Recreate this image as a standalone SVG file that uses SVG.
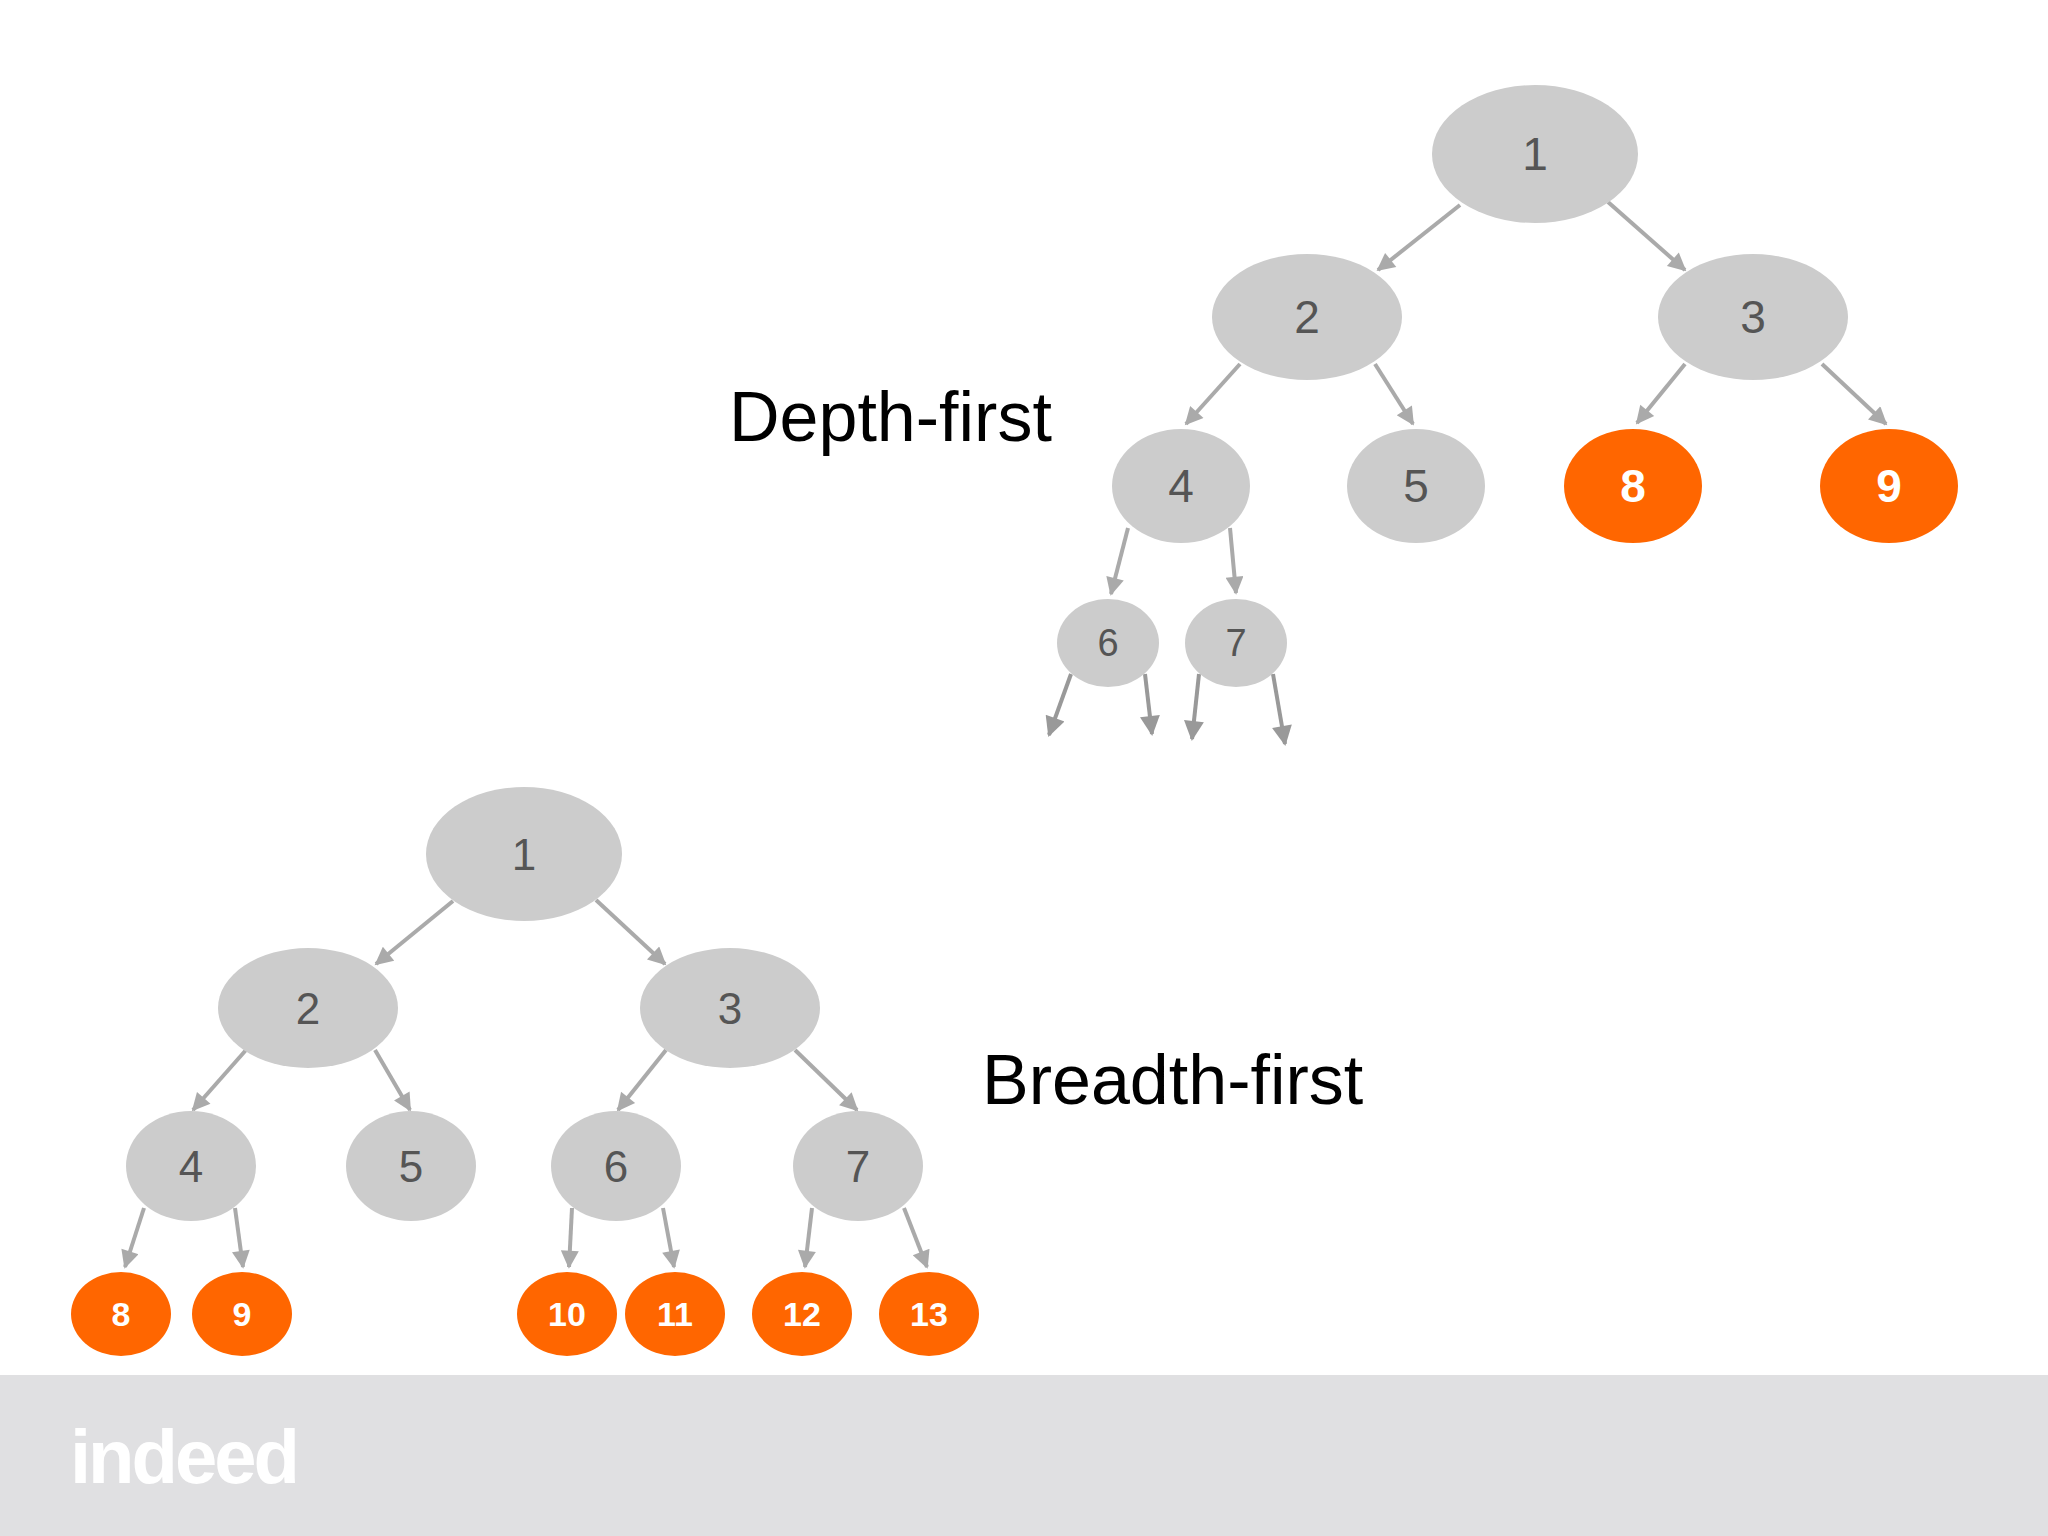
<svg xmlns="http://www.w3.org/2000/svg" width="2048" height="1536" viewBox="0 0 2048 1536">
<style>
.g{fill:#cccccc}.o{fill:#ff6600}
.t{font-family:"Liberation Sans",Arial,sans-serif;fill:#555;text-anchor:middle;dominant-baseline:central}
.w{font-family:"Liberation Sans",Arial,sans-serif;fill:#fff;font-weight:bold;text-anchor:middle;dominant-baseline:central}
.e line{stroke:#aaaaaa;stroke-width:4;marker-end:url(#a)}
.e line.k{stroke:#999999;marker-end:url(#b)}
.lab{font-family:"Liberation Sans",Arial,sans-serif;font-size:70px;fill:#000}
</style>
<defs>
<marker id="a" viewBox="0 0 10 10" refX="9" refY="5" markerWidth="22" markerHeight="18" markerUnits="userSpaceOnUse" orient="auto"><path d="M0,0L10,5L0,10z" fill="#aaaaaa"/></marker>
<marker id="b" viewBox="0 0 10 10" refX="9" refY="5" markerWidth="26" markerHeight="20" markerUnits="userSpaceOnUse" orient="auto"><path d="M0,0L10,5L0,10z" fill="#999999"/></marker>
</defs>
<rect width="2048" height="1536" fill="#fff"/>
<rect y="1375" width="2048" height="161" fill="#e0e0e2"/>
<text x="70" y="1483" font-family="Liberation Sans,Arial,sans-serif" font-size="76" font-weight="bold" fill="#fff" letter-spacing="-3">indeed</text>
<text class="lab" x="729" y="441">Depth-first</text>
<text class="lab" x="982" y="1104">Breadth-first</text>
<g class="e">
<line x1="1460" y1="205" x2="1378" y2="270"/><line x1="1608" y1="202" x2="1685" y2="270"/>
<line x1="1240" y1="364" x2="1186" y2="424"/><line x1="1375" y1="364" x2="1413" y2="424"/>
<line x1="1685" y1="364" x2="1637" y2="423"/><line x1="1822" y1="364" x2="1886" y2="424"/>
<line x1="1128" y1="528" x2="1111" y2="594"/><line x1="1230" y1="528" x2="1236" y2="593"/>
<line class="k" x1="1071" y1="674" x2="1049" y2="735"/><line class="k" x1="1145" y1="674" x2="1152" y2="734"/>
<line class="k" x1="1199" y1="674" x2="1192" y2="739"/><line class="k" x1="1273" y1="674" x2="1285" y2="744"/>
<line x1="453" y1="901" x2="376" y2="964"/><line x1="596" y1="900" x2="665" y2="964"/>
<line x1="246" y1="1050" x2="193" y2="1110"/><line x1="375" y1="1050" x2="410" y2="1110"/>
<line x1="666" y1="1050" x2="618" y2="1110"/><line x1="795" y1="1050" x2="857" y2="1110"/>
<line x1="144" y1="1208" x2="125" y2="1267"/><line x1="235" y1="1208" x2="243" y2="1267"/>
<line x1="572" y1="1208" x2="569" y2="1267"/><line x1="663" y1="1208" x2="674" y2="1267"/>
<line x1="812" y1="1208" x2="805" y2="1267"/><line x1="904" y1="1208" x2="927" y2="1267"/>
</g>
<g id="d1"><ellipse class="g" cx="1535" cy="154" rx="103" ry="69"/><text class="t" x="1535" y="154" font-size="46">1</text></g>
<g id="d2"><ellipse class="g" cx="1307" cy="317" rx="95" ry="63"/><text class="t" x="1307" y="317" font-size="46">2</text></g>
<g id="d3"><ellipse class="g" cx="1753" cy="317" rx="95" ry="63"/><text class="t" x="1753" y="317" font-size="46">3</text></g>
<g id="d4"><ellipse class="g" cx="1181" cy="486" rx="69" ry="57"/><text class="t" x="1181" y="486" font-size="46">4</text></g>
<g id="d5"><ellipse class="g" cx="1416" cy="486" rx="69" ry="57"/><text class="t" x="1416" y="486" font-size="46">5</text></g>
<g id="d8"><ellipse class="o" cx="1633" cy="486" rx="69" ry="57"/><text class="w" x="1633" y="486" font-size="46">8</text></g>
<g id="d9"><ellipse class="o" cx="1889" cy="486" rx="69" ry="57"/><text class="w" x="1889" y="486" font-size="46">9</text></g>
<g id="d6"><ellipse class="g" cx="1108" cy="643" rx="51" ry="44"/><text class="t" x="1108" y="643" font-size="38">6</text></g>
<g id="d7"><ellipse class="g" cx="1236" cy="643" rx="51" ry="44"/><text class="t" x="1236" y="643" font-size="38">7</text></g>
<g id="b1"><ellipse class="g" cx="524" cy="854" rx="98" ry="67"/><text class="t" x="524" y="854" font-size="44">1</text></g>
<g id="b2"><ellipse class="g" cx="308" cy="1008" rx="90" ry="60"/><text class="t" x="308" y="1008" font-size="44">2</text></g>
<g id="b3"><ellipse class="g" cx="730" cy="1008" rx="90" ry="60"/><text class="t" x="730" y="1008" font-size="44">3</text></g>
<g id="b4"><ellipse class="g" cx="191" cy="1166" rx="65" ry="55"/><text class="t" x="191" y="1166" font-size="44">4</text></g>
<g id="b5"><ellipse class="g" cx="411" cy="1166" rx="65" ry="55"/><text class="t" x="411" y="1166" font-size="44">5</text></g>
<g id="b6"><ellipse class="g" cx="616" cy="1166" rx="65" ry="55"/><text class="t" x="616" y="1166" font-size="44">6</text></g>
<g id="b7"><ellipse class="g" cx="858" cy="1166" rx="65" ry="55"/><text class="t" x="858" y="1166" font-size="44">7</text></g>
<g id="b8"><ellipse class="o" cx="121" cy="1314" rx="50" ry="42"/><text class="w" x="121" y="1314" font-size="34">8</text></g>
<g id="b9"><ellipse class="o" cx="242" cy="1314" rx="50" ry="42"/><text class="w" x="242" y="1314" font-size="34">9</text></g>
<g id="b10"><ellipse class="o" cx="567" cy="1314" rx="50" ry="42"/><text class="w" x="567" y="1314" font-size="34">10</text></g>
<g id="b11"><ellipse class="o" cx="675" cy="1314" rx="50" ry="42"/><text class="w" x="675" y="1314" font-size="34">11</text></g>
<g id="b12"><ellipse class="o" cx="802" cy="1314" rx="50" ry="42"/><text class="w" x="802" y="1314" font-size="34">12</text></g>
<g id="b13"><ellipse class="o" cx="929" cy="1314" rx="50" ry="42"/><text class="w" x="929" y="1314" font-size="34">13</text></g>
</svg>
